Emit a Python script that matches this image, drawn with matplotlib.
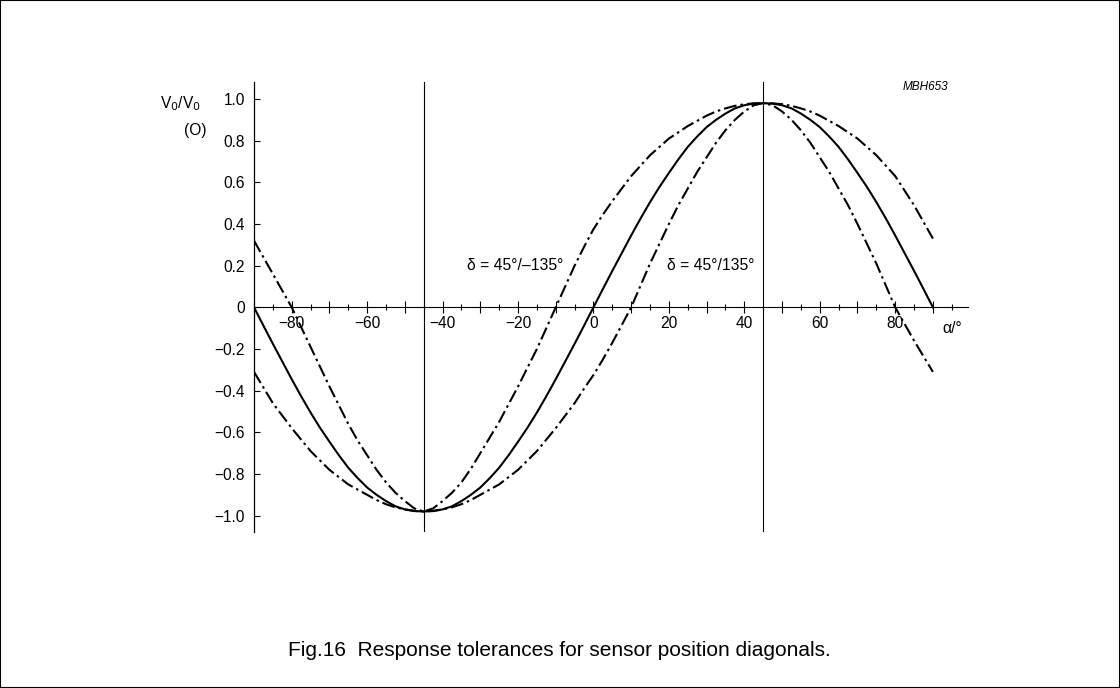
import matplotlib
matplotlib.use("Agg")
import matplotlib.pyplot as plt
from matplotlib.ticker import MultipleLocator, FixedLocator, FuncFormatter
from matplotlib.patches import Rectangle

plt.rcParams['font.family'] = ['Liberation Sans', 'DejaVu Sans']

# angle alpha in degrees, values read every 2.5 degrees (-90 ... 90)
alpha = [i * 2.5 for i in range(-36, 37)]

# ideal response (solid)
v_ideal = [0.0, -0.088, -0.175, -0.26, -0.345, -0.427, -0.505, -0.578, -0.645,
           -0.71, -0.77, -0.82, -0.865, -0.90, -0.93, -0.955, -0.97, -0.978,
           -0.98,
           -0.978, -0.97, -0.955, -0.93, -0.90, -0.865, -0.82, -0.77, -0.71,
           -0.645, -0.578, -0.505, -0.427, -0.345, -0.26, -0.175, -0.088,
           0.0,
           0.088, 0.175, 0.26, 0.345, 0.427, 0.505, 0.578, 0.645, 0.71,
           0.77, 0.82, 0.865, 0.90, 0.93, 0.955, 0.97, 0.978,
           0.98,
           0.978, 0.97, 0.955, 0.93, 0.90, 0.865, 0.82, 0.77, 0.71,
           0.645, 0.578, 0.505, 0.427, 0.345, 0.26, 0.175, 0.088, 0.0]

# delta = 45/-135 (zero at -10, broad maximum)
v_minus = [0.32, 0.24, 0.16, 0.08, 0.0, -0.095, -0.19, -0.285, -0.38,
           -0.47, -0.56, -0.64, -0.71, -0.78, -0.84, -0.89, -0.93, -0.965,
           -0.98,
           -0.965, -0.93, -0.89, -0.84, -0.775, -0.70, -0.625, -0.55, -0.465,
           -0.38, -0.29, -0.20, -0.10, 0.0, 0.10, 0.20, 0.29,
           0.375,
           0.445, 0.51, 0.57, 0.63, 0.68, 0.73, 0.77, 0.81, 0.84,
           0.87, 0.895, 0.92, 0.94, 0.955, 0.967, 0.975, 0.979,
           0.98,
           0.979, 0.975, 0.967, 0.955, 0.94, 0.92, 0.895, 0.87, 0.84,
           0.81, 0.77, 0.73, 0.68, 0.63, 0.56, 0.49, 0.41, 0.33]

# delta = 45/135 (zero at +10, narrow maximum)
v_plus = [-0.31, -0.385, -0.46, -0.52, -0.58, -0.635, -0.69, -0.735, -0.78,
          -0.815, -0.85, -0.875, -0.90, -0.925, -0.945, -0.96, -0.97, -0.977,
          -0.98,
          -0.977, -0.97, -0.96, -0.945, -0.925, -0.90, -0.875, -0.85, -0.815,
          -0.78, -0.735, -0.69, -0.635, -0.58, -0.52, -0.46, -0.39,
          -0.325,
          -0.25, -0.17, -0.085, 0.0, 0.105, 0.21, 0.305, 0.40, 0.49,
          0.57, 0.65, 0.72, 0.79, 0.85, 0.90, 0.94, 0.97,
          0.98,
          0.97, 0.94, 0.90, 0.85, 0.79, 0.72, 0.65, 0.57, 0.49,
          0.40, 0.305, 0.21, 0.105, 0.0, -0.08, -0.16, -0.235, -0.31]

y_ticks = [1.0, 0.8, 0.6, 0.4, 0.2, 0.0, -0.2, -0.4, -0.6, -0.8, -1.0]
markers_x = [-45, 45]

fig = plt.figure(figsize=(11.2, 6.88), dpi=100)
ax = fig.add_axes([254 / 1120, (688 - 531.7) / 688, 714 / 1120, 450 / 688])

dashdot = (6.2, 1.9, 1.2, 1.9)
ax.plot(alpha, v_ideal, color='black', lw=1.5)
ax.plot(alpha, v_minus, color='black', lw=1.5, dashes=dashdot)
ax.plot(alpha, v_plus, color='black', lw=1.5, dashes=dashdot)

for xm in markers_x:
    ax.axvline(xm, color='black', lw=0.8)

ax.set_xlim(-90, 99.3)
ax.set_ylim(-1.077, 1.083)

for s in ['top', 'right']:
    ax.spines[s].set_visible(False)
ax.spines['bottom'].set_position(('data', 0))
ax.spines['bottom'].set_linewidth(0.8)
ax.spines['left'].set_linewidth(0.9)


def fmt(v):
    if abs(v) < 1e-9:
        return '0'
    s = '%d' % round(abs(v))
    return ('\u2212' + s) if v < 0 else s


ax.xaxis.set_major_locator(MultipleLocator(10))
ax.xaxis.set_minor_locator(MultipleLocator(5))
ax.xaxis.set_major_formatter(FuncFormatter(
    lambda v, p: fmt(v) if round(v) % 20 == 0 and abs(v) < 85 else ''))
ax.tick_params(axis='x', which='major', direction='inout', length=8, width=0.8,
               pad=2.5, labelsize=11.2)
ax.tick_params(axis='x', which='minor', direction='inout', length=5, width=0.8)

ax.yaxis.set_major_locator(FixedLocator(y_ticks))
ax.set_yticklabels(['0' if t == 0 else ('\u2212%.1f' % -t if t < 0 else '%.1f' % t)
                    for t in y_ticks])
ax.tick_params(axis='y', direction='in', length=4.5, width=0.8, pad=6.5,
               labelsize=11.2)

ax.text(-33.5, 0.203, '\u03b4 = 45\u00b0/\u2013135\u00b0', fontsize=11.3,
        ha='left', va='center')
ax.text(19.5, 0.203, '\u03b4 = 45\u00b0/135\u00b0', fontsize=11.3,
        ha='left', va='center')
ax.text(95, -0.104, '\u03b1/\u00b0', fontsize=11.3, ha='center', va='center')

fig.text(180 / 1120, 1 - 104 / 688, 'V$_0$/V$_0$', fontsize=11.2,
         ha='center', va='center')
fig.text(195 / 1120, 1 - 130 / 688, '(O)', fontsize=11.2, ha='center', va='center')
fig.text(925 / 1120, 1 - 87.5 / 688, 'MBH653', fontsize=8.5, style='italic',
         ha='center', va='center')
fig.text(288 / 1120, 1 - 656 / 688,
         'Fig.16  Response tolerances for sensor position diagonals.',
         fontsize=15, ha='left', va='baseline')

fig.patches.append(Rectangle((0, 0), 1, 1, transform=fig.transFigure,
                             fill=False, edgecolor='black', lw=1.5))

fig.savefig('out.png', dpi=100)
